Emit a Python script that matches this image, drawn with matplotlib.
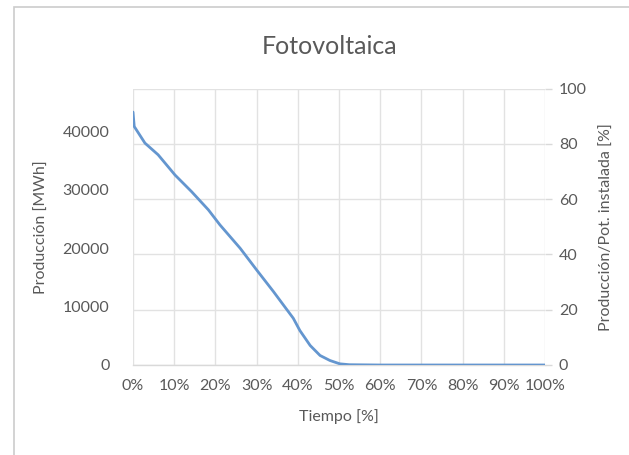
import matplotlib
matplotlib.use("Agg")
import matplotlib.pyplot as plt
from matplotlib.patches import Rectangle

plt.rcParams['font.family'] = ['Lato', 'DejaVu Sans']

# Data
time_pct = [0, 0.3, 2.9, 6.1, 10.2, 14.2, 18.3, 21.1, 26.0, 30.0, 34.1, 36.5,
            38.9, 40.5, 43.0, 45.4, 47.8, 50.2, 52.5, 60, 70, 80, 90, 100]
produccion = [43270, 40800, 37960, 35960, 32500, 29670, 26540, 23970, 19980,
              16270, 12550, 10270, 8000, 5900, 3340, 1630, 770, 200, 50,
              0, 0, 0, 0, 0]
x_ticks = [0, 10, 20, 30, 40, 50, 60, 70, 80, 90, 100]
x_ticklabels = [f"{t}%" for t in x_ticks]
left_ticks = [0, 10000, 20000, 30000, 40000]
right_ticks = [0, 20, 40, 60, 80, 100]

W, H = 629, 455
fig = plt.figure(figsize=(W / 100, H / 100), dpi=100)
fig.patch.set_facecolor('white')

# outer chart frame (cropped at right/bottom)
fig.patches.append(Rectangle((14 / W, -0.1), 1.2, (H - 7) / H + 0.1,
                             transform=fig.transFigure, fill=False,
                             edgecolor='#cccccc', linewidth=1.2))

x0, x1, y0, y1 = 133, 545, 365, 88.5
ax = fig.add_axes([x0 / W, 1 - y0 / H, (x1 - x0) / W, (y0 - y1) / H])
ax2 = ax.twinx()
ax.set_zorder(ax2.get_zorder() + 1)
ax.patch.set_visible(False)

text_color = '#595959'
grid_color = '#e2e2e2'

ax.plot(time_pct, produccion, color='#6496cf', linewidth=2.0,
        solid_joinstyle='round', solid_capstyle='round', zorder=5)
ax.set_xlim(0, 100)
ax.set_ylim(0, 47300)
ax.set_xticks(x_ticks)
ax.set_xticklabels(x_ticklabels)
ax.set_yticks(left_ticks)
ax.xaxis.grid(True, color=grid_color, linewidth=1.0)
ax.yaxis.grid(False)
ax.tick_params(axis='x', length=0, pad=10, labelsize=11.5, labelcolor=text_color)
ax.tick_params(axis='y', length=0, pad=17, labelsize=11.5, labelcolor=text_color)
for s in ['top', 'right', 'left']:
    ax.spines[s].set_visible(False)
ax.spines['bottom'].set_color('#d9d9d9')
ax.spines['bottom'].set_linewidth(1.0)

ax2.set_ylim(0, 100)
ax2.set_yticks(right_ticks)
ax2.yaxis.grid(True, color=grid_color, linewidth=1.0)
ax2.tick_params(axis='y', length=5, width=1.0, color='#d9d9d9', pad=5,
                labelsize=11.5, labelcolor=text_color)
for s in ['top', 'right', 'left', 'bottom']:
    ax2.spines[s].set_visible(False)

ax.set_xlabel('Tiempo [%]', fontsize=11.5, color=text_color, labelpad=12)
ax.set_ylabel('Producción [MWh]', fontsize=11.5, color=text_color, labelpad=10)
ax2.set_ylabel('Producción/Pot. instalada [%]', fontsize=11.5, color=text_color,
               labelpad=9)

fig.text(330 / W, 1 - 46 / H, 'Fotovoltaica', ha='center', va='center',
         fontsize=18, color=text_color)

fig.savefig('out.png', dpi=100, facecolor='white')
